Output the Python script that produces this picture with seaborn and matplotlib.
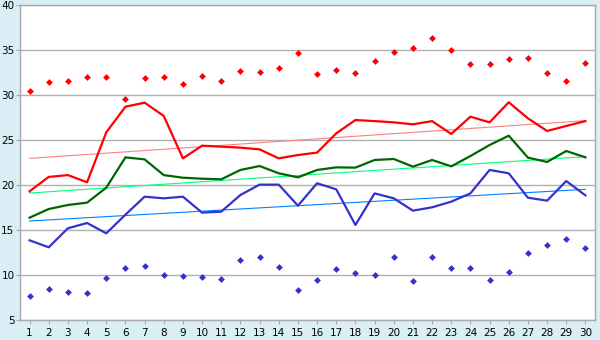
import numpy as np
import pandas as pd
import matplotlib
matplotlib.use("Agg")
import matplotlib.pyplot as plt
import seaborn as sns

# Datos (dias 1..30)
dias = list(range(1, 31))
maximas = [19.3, 20.9, 21.1, 20.3, 25.85, 28.7, 29.15, 27.67, 22.96, 24.37,
           24.26, 24.15, 23.96, 22.96, 23.33, 23.6, 25.74, 27.22, 27.1, 26.96,
           26.74, 27.1, 25.67, 27.59, 26.96, 29.19, 27.41, 26.0, 26.56, 27.1]
medias = [16.37, 17.33, 17.78, 18.04, 19.7, 23.07, 22.85, 21.1, 20.81, 20.7,
          20.63, 21.67, 22.11, 21.3, 20.85, 21.67, 21.96, 21.93, 22.78, 22.89,
          22.04, 22.78, 22.07, 23.22, 24.44, 25.48, 23.04, 22.56, 23.78, 23.07]
minimas = [13.85, 13.08, 15.19, 15.78, 14.63, 16.7, 18.7, 18.52, 18.7, 16.93,
           17.04, 18.89, 20.04, 20.04, 17.7, 20.19, 19.52, 15.56, 19.07, 18.52,
           17.15, 17.52, 18.15, 19.07, 21.67, 21.3, 18.59, 18.26, 20.44, 18.85]
record_max = [30.44, 31.4, 31.55, 31.96, 31.96, 29.55, 31.85, 31.96, 31.26, 32.07,
              31.52, 32.63, 32.56, 32.96, 34.63, 32.3, 32.74, 32.4, 33.74, 34.74,
              35.19, 36.3, 34.96, 33.4, 33.4, 33.96, 34.07, 32.4, 31.52, 33.52]
record_min = [7.63, 8.41, 8.15, 7.96, 9.63, 10.74, 10.96, 9.96, 9.85, 9.74,
              9.52, 11.63, 11.96, 10.85, 8.3, 9.41, 10.63, 10.19, 9.96, 11.96,
              9.3, 11.96, 10.74, 10.74, 9.41, 10.3, 12.41, 13.3, 13.96, 12.96]

# tendencias (valor en el dia 1 y en el dia 30)
dias_tend = [1, 30]
tend_max = [22.96, 27.15]
tend_med = [19.11, 23.15]
tend_min = [16.0, 19.52]

df = pd.DataFrame({"dia": dias, "max": maximas, "med": medias, "min": minimas,
                   "rmax": record_max, "rmin": record_min})
df_tend = pd.DataFrame({"dia": dias_tend, "max": tend_max, "med": tend_med,
                        "min": tend_min})

fondo = "#D9EFF5"
fig = plt.figure(figsize=(6, 3.4), dpi=100, facecolor=fondo)
ax = fig.add_axes([20 / 600, 20 / 340, 575 / 600, 315 / 340])
ax.set_facecolor("white")

# Lineas de tendencia
for col, color in [("max", "#FF8080"), ("med", "#00FF80"), ("min", "#0080FF")]:
    sns.lineplot(data=df_tend, x="dia", y=col, color=color, linewidth=0.8, ax=ax)

sns.lineplot(data=df, x="dia", y="max", color="#FF0000", linewidth=1.6, ax=ax)
sns.lineplot(data=df, x="dia", y="med", color="#006600", linewidth=1.6, ax=ax)
sns.lineplot(data=df, x="dia", y="min", color="#3333CC", linewidth=1.6, ax=ax)

sns.scatterplot(data=df, x="dia", y="rmax", color="#FF0000", marker="D", s=12,
                linewidth=0, ax=ax)
sns.scatterplot(data=df, x="dia", y="rmin", color="#3333CC", marker="D", s=12,
                linewidth=0, ax=ax)

ax.set_xlim(0.5, 30.5)
ax.set_ylim(5, 40)
ax.set_xticks(dias)
ax.set_yticks(range(5, 41, 5))
ax.set_xlabel("")
ax.set_ylabel("")
ax.grid(axis="y", color="#B0B0B0", linewidth=1)
ax.set_axisbelow(True)
for s in ax.spines.values():
    s.set_color("#A8A8A8")
    s.set_linewidth(1)
ax.tick_params(axis="both", colors="#A8A8A8", length=3, labelsize=7.5,
               labelcolor="black", pad=1)
ax.tick_params(axis="x", pad=3)

plt.savefig("out.png", dpi=100, facecolor=fondo)
